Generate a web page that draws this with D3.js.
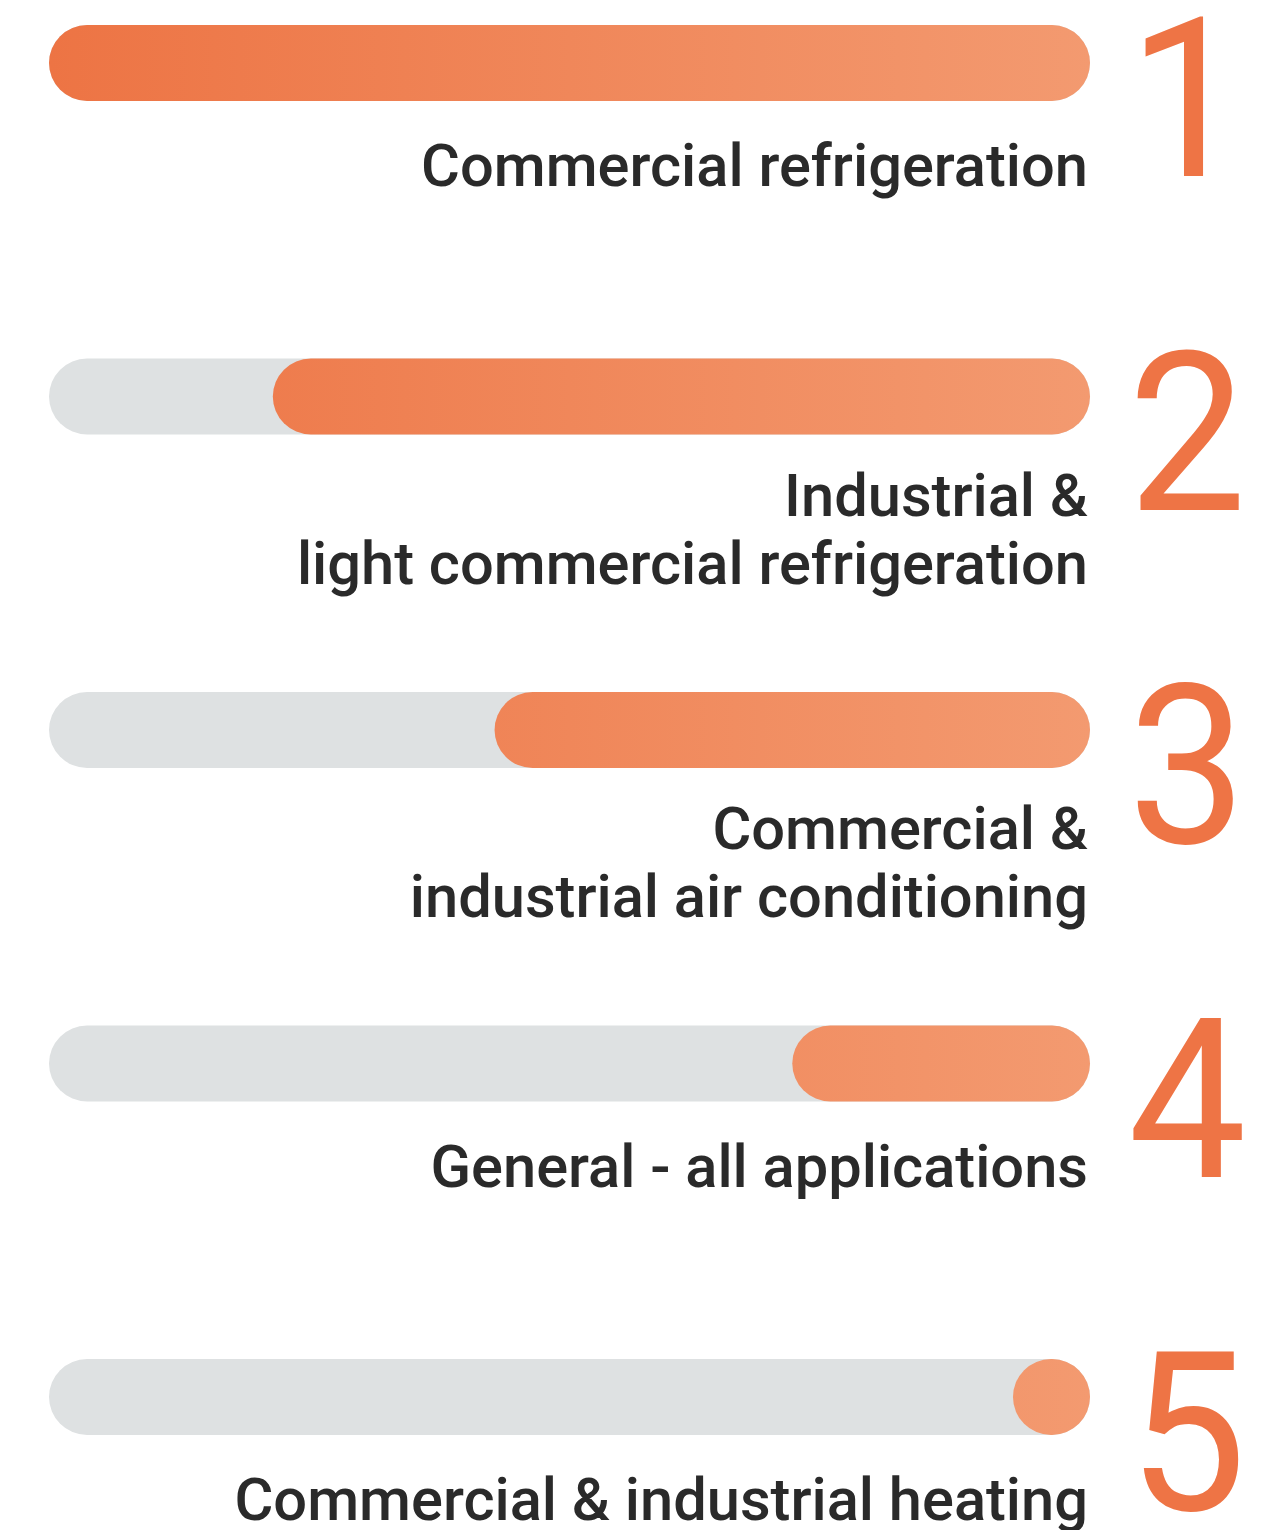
<!DOCTYPE html>
<html><head><meta charset="utf-8">
<script src="https://cdn.jsdelivr.net/npm/d3@7"></script>
<style>html,body{margin:0;padding:0;background:#fff;}svg{display:block;}</style>
</head><body>
<script>
const ranks = ["1","2","3","4","5"];
const labels = [
  ["Commercial refrigeration"],
  ["Industrial &","light commercial refrigeration"],
  ["Commercial &","industrial air conditioning"],
  ["General - all applications"],
  ["Commercial & industrial heating"]
];
const values = [100, 78.5, 57.2, 28.6, 7.4];

const W = 1281, H = 1530;
const svg = d3.select("body").append("svg").attr("width", W).attr("height", H);
const defs = svg.append("defs");
const grad = defs.append("linearGradient").attr("id","og")
  .attr("gradientUnits","userSpaceOnUse").attr("x1",49).attr("x2",1090).attr("y1",0).attr("y2",0);
grad.append("stop").attr("offset","0%").attr("stop-color","#ED7444");
grad.append("stop").attr("offset","100%").attr("stop-color","#F39A70");

const x = d3.scaleLinear().domain([0,100]).range([0, 1041]);
const right = 1090, left = 49;
const y = d3.scalePoint().domain(ranks).range([63, 1397]);
const bh = 76;

const g = svg.selectAll("g.row").data(ranks).join("g").attr("class","row")
  .attr("transform", d => `translate(0,${y(d)})`);

g.append("rect").attr("x", left).attr("y", -bh/2).attr("width", right-left).attr("height", bh)
  .attr("rx", bh/2).attr("fill", "#DEE1E2");
g.append("rect").attr("x", (d,i) => right - x(values[i])).attr("y", -bh/2)
  .attr("width", (d,i) => x(values[i])).attr("height", bh)
  .attr("rx", bh/2).attr("fill", "url(#og)");

g.append("text").attr("transform","translate(1128,113) scale(0.95,1)")
  .attr("font-family","Roboto, 'Open Sans', sans-serif").attr("font-size", 222)
  .attr("fill","#EE7445").text(d => d);

g.each(function(d,i){
  const t = d3.select(this).append("text").attr("text-anchor","end")
    .attr("font-family","Roboto, sans-serif").attr("font-size",59.6).attr("font-weight",500)
    .attr("fill","#2a2a2a");
  labels[i].forEach((line,j) => {
    t.append("tspan").attr("x", 1088).attr("y", (labels[i].length===1 ? 123 : 119) + j*68).text(line);
  });
});
</script>
</body></html>
